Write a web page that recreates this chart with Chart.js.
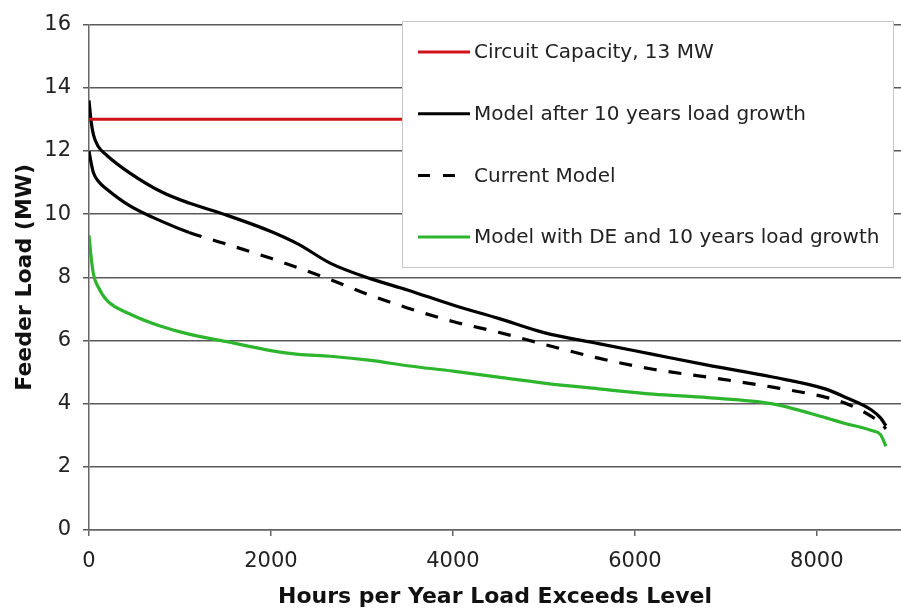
<!DOCTYPE html>
<html>
<head>
<meta charset="utf-8">
<title>Feeder Load Duration</title>
<script src="https://cdn.jsdelivr.net/npm/chart.js@4.4.0/dist/chart.umd.min.js"></script>
<style>
  html, body { margin: 0; padding: 0; background: #fff; }
  #wrap { width: 901px; height: 610px; }
</style>
</head>
<body>
<div id="wrap"><canvas id="loadChart" width="901" height="610"></canvas></div>
<script>
// hours per year the load exceeds the level
const hours = [0, 25, 50, 100, 200, 450, 800, 1100, 1500, 2000, 2300, 2650, 3100, 3500, 4000, 4500, 5000, 5600, 6200, 6800, 7500, 8100, 8300, 8600, 8700, 8760];

// feeder load, MW
const afterGrowth  = [13.6, 12.9, 12.5, 12.15, 11.85, 11.3, 10.7, 10.35, 9.98, 9.45, 9.05, 8.45, 7.95, 7.6, 7.12, 6.7, 6.25, 5.9, 5.56, 5.22, 4.85, 4.46, 4.22, 3.8, 3.55, 3.3];
const currentModel = [12.0, 11.6, 11.3, 11.05, 10.78, 10.26, 9.77, 9.42, 9.06, 8.6, 8.3, 7.93, 7.42, 7.03, 6.6, 6.26, 5.88, 5.44, 5.09, 4.84, 4.53, 4.2, 4.03, 3.6, 3.4, 3.2];
const withDE       = [9.33, 8.6, 8.09, 7.7, 7.26, 6.84, 6.44, 6.2, 5.97, 5.68, 5.56, 5.5, 5.37, 5.2, 5.03, 4.84, 4.65, 4.47, 4.3, 4.19, 4.0, 3.55, 3.38, 3.15, 3.02, 2.65];
const capacityMW = 13;

const xTicks = [0, 2000, 4000, 6000, 8000];
const yTicks = [0, 2, 4, 6, 8, 10, 12, 14, 16];

const FONT = "'DejaVu Sans', Verdana, sans-serif";
const toPoints = (vals) => hours.map((h, i) => ({ x: h, y: vals[i] }));

// legend drawn as a box inside the plot, like the original
const legendBox = {
  id: "legendBox",
  afterDraw(chart) {
    const ctx = chart.ctx;
    const bx = 402, by = 21, bw = 491, bh = 246;
    ctx.save();
    ctx.fillStyle = "#fff";
    ctx.fillRect(bx, by, bw, bh);
    ctx.strokeStyle = "#c8c8c8";
    ctx.lineWidth = 1;
    ctx.strokeRect(bx + 0.5, by + 0.5, bw, bh);
    chart.data.datasets.forEach((ds, i) => {
      const cy = by + 31 + i * 61.7;
      ctx.beginPath();
      ctx.setLineDash(ds.legendDash || []);
      ctx.strokeStyle = ds.borderColor;
      ctx.lineWidth = 3;
      ctx.moveTo(418, cy);
      ctx.lineTo(ds.legendDash ? 456 : 470, cy);
      ctx.stroke();
      ctx.setLineDash([]);
      ctx.fillStyle = "#222";
      ctx.font = "20px " + FONT;
      ctx.textBaseline = "middle";
      ctx.fillText(ds.label, 474, cy + 1);
    });
    ctx.restore();
  },
};

const ctx = document.getElementById("loadChart").getContext("2d");
const loadChart = new Chart(ctx, {
  type: "line",
  data: {
    datasets: [
      {
        label: "Circuit Capacity, 13 MW",
        data: hours.map((h) => ({ x: h, y: capacityMW })),
        borderColor: "#d0121b",
        borderWidth: 3,
      },
      {
        label: "Model after 10 years load growth",
        data: toPoints(afterGrowth),
        borderColor: "#000",
        borderWidth: 3.2,
      },
      {
        label: "Current Model",
        data: toPoints(currentModel),
        borderColor: "#000",
        borderWidth: 3.2,
        borderDash: [13, 12],
        legendDash: [12, 13],
        segment: {
          // first stretch of the curve is drawn solid in the original
          borderDash: (c) => (c.p0.parsed.x < 1000 ? [] : undefined),
        },
      },
      {
        label: "Model with DE and 10 years load growth",
        data: toPoints(withDE),
        borderColor: "#2db52d",
        borderWidth: 3.2,
      },
    ],
  },
  options: {
    responsive: false,
    animation: false,
    events: [],
    layout: { padding: { top: 15, right: 0, bottom: 0, left: 0 } },
    elements: {
      point: { radius: 0 },
      line: { cubicInterpolationMode: "monotone", borderCapStyle: "butt" },
    },
    plugins: {
      legend: { display: false },
      tooltip: { enabled: false },
    },
    scales: {
      x: {
        type: "linear",
        min: 0,
        max: 8925,
        afterBuildTicks: (axis) => {
          axis.ticks = xTicks.map((v) => ({ value: v }));
        },
        afterFit: (scale) => {
          scale.height = 80;
        },
        grid: {
          drawOnChartArea: false,
          drawTicks: true,
          tickLength: 6,
          color: "#666",
          lineWidth: 1.5,
        },
        border: { color: "#666", width: 1.5 },
        ticks: {
          padding: 13,
          color: "#222",
          maxRotation: 0,
          font: { family: FONT, size: 21 },
          callback: (v) => String(v),
        },
        title: {
          display: true,
          text: "Hours per Year Load Exceeds Level",
          color: "#111",
          padding: { top: 0, bottom: 0 },
          font: { family: FONT, size: 22, weight: "bold" },
        },
      },
      y: {
        min: 0,
        max: 16,
        afterBuildTicks: (axis) => {
          axis.ticks = yTicks.map((v) => ({ value: v }));
        },
        afterFit: (scale) => {
          scale.width = 89;
        },
        grid: {
          drawTicks: true,
          tickLength: 6,
          color: "#5a5a5a",
          lineWidth: 1.5,
        },
        border: { color: "#666", width: 1.5 },
        ticks: {
          padding: 12,
          color: "#222",
          font: { family: FONT, size: 21 },
        },
        title: {
          display: true,
          text: "Feeder Load (MW)",
          color: "#111",
          padding: { top: 12, bottom: 0 },
          font: { family: FONT, size: 22, weight: "bold" },
        },
      },
    },
  },
  plugins: [legendBox],
});
</script>
</body>
</html>
